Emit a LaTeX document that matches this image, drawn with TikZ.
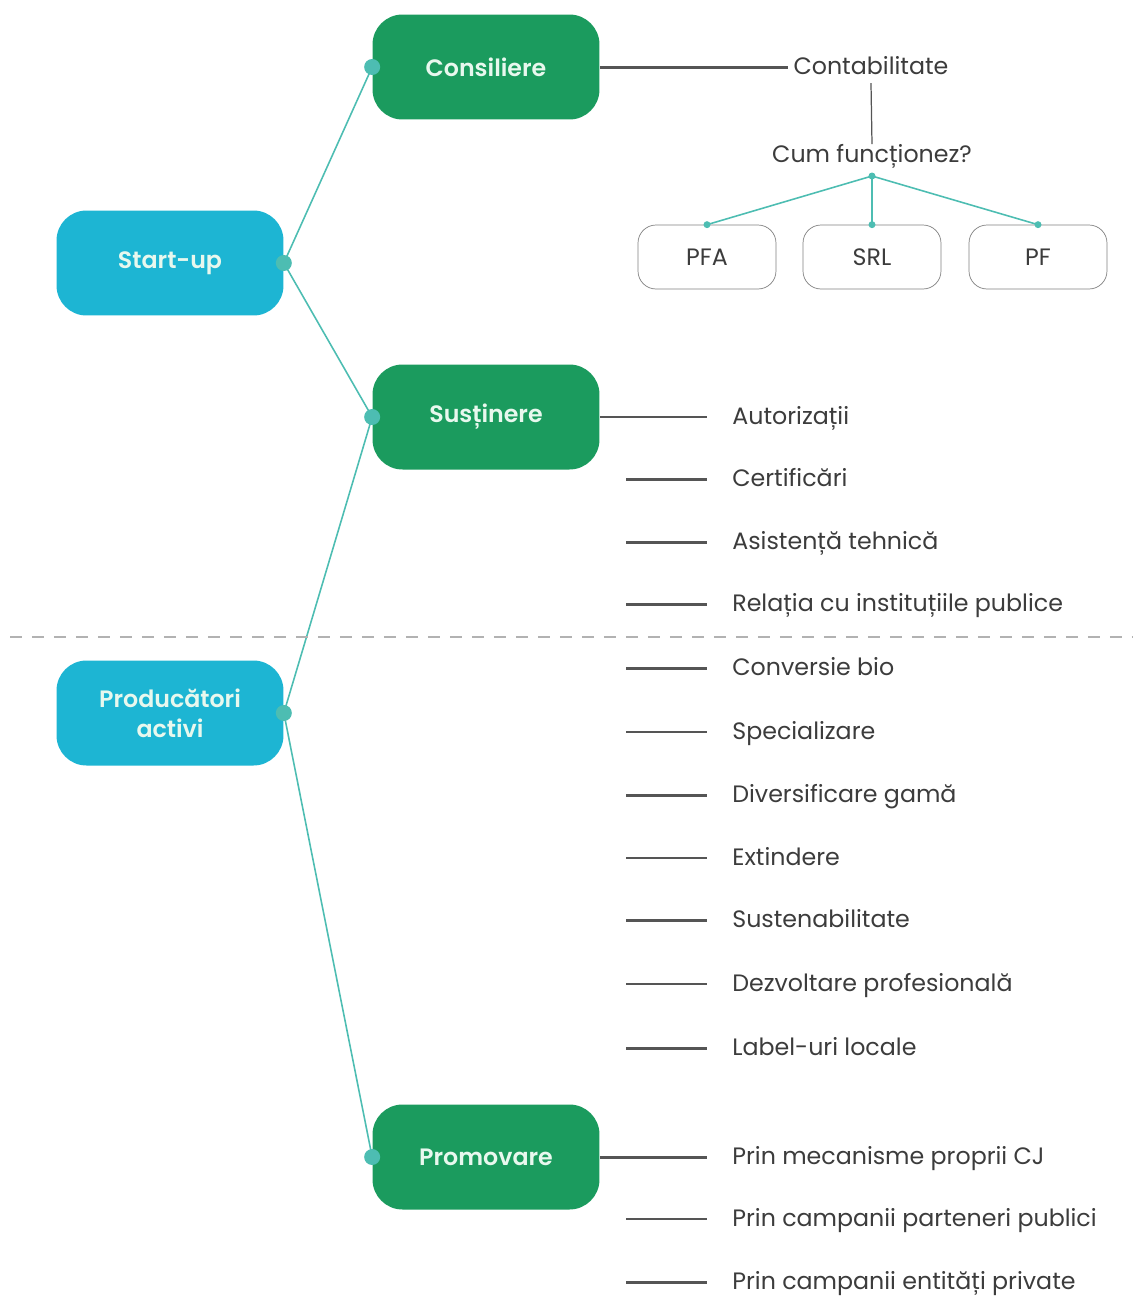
\documentclass[tikz,border=0pt]{standalone}
\usepackage{fontspec}
\setmainfont{Poppins}[BoldFont={Poppins SemiBold}]
\definecolor{rootcyan}{RGB}{29,181,211}
\definecolor{branchgreen}{RGB}{27,155,94}
\definecolor{linkteal}{RGB}{77,189,178}
\definecolor{linegray}{RGB}{85,85,85}
\definecolor{textgray}{RGB}{60,60,60}
\definecolor{topictext}{RGB}{232,248,238}
\tikzset{
    topic/.style={rounded corners=0.6cm, minimum width=4.54cm, minimum height=2.1cm, align=center,
        text=topictext, font=\fontsize{13.5}{17}\selectfont\bfseries},
    root/.style={topic, fill=rootcyan},
    branch/.style={topic, fill=branchgreen},
    label/.style={text=textgray, font=\fontsize{13.5}{17}\selectfont, text height=9pt, text depth=1pt},
    item/.style={label, anchor=west, inner xsep=0.5cm, inner ysep=0pt},
    entity/.style={draw=gray, rounded corners=0.36cm, minimum width=2.76cm, minimum height=1.28cm,
        text=textgray, font=\fontsize{13.5}{17}\selectfont},
    link/.style={linkteal, line width=0.9pt},
    thinline/.style={linegray, line width=0.7pt},
    thickline/.style={linegray, line width=1.7pt},
}
\begin{document}
\begin{tikzpicture}[x=0.02cm, y=-0.02cm]
    \useasboundingbox (0,0) rectangle (1143,1296);

    \node[root] (startup) at (170,263) {Start-up};
    \node[root] (prod) at (170,713) {Producători\\activi};
    \node[branch] (cons) at (486,67) {Consiliere};
    \node[branch] (sust) at (486,417) {Susținere};
    \node[branch] (prom) at (486,1157) {Promovare};

    \draw[link] (startup.east) -- (cons.west);
    \draw[link] (startup.east) -- (sust.west);
    \draw[link] (prod.east) -- (sust.west);
    \draw[link] (prod.east) -- (prom.west);
    \foreach \n in {startup.east, prod.east, cons.west, sust.west, prom.west}
        \fill[linkteal] (\n) circle (0.16cm);

    \node[label, inner xsep=3pt, inner ysep=4pt] (cont) at (871,67) {Contabilitate};
    \node[label, inner sep=1pt] (cum) at (872,155) {Cum funcționez?};
    \coordinate (fork) at (872,176);
    \node[entity] (pfa) at (707,257) {PFA};
    \node[entity] (srl) at (872,257) {SRL};
    \node[entity] (pf) at (1038,257) {PF};

    \draw[thickline] (cons.east) -- (cont.west);
    \draw[thinline] (cont.south) -- (cum.north);
    \foreach \n in {pfa, srl, pf} {
        \draw[link] (fork) -- (\n.north);
        \fill[linkteal] (\n.north) circle (0.07cm);
    }
    \fill[linkteal] (fork) circle (0.07cm);

    \draw[gray!60, line width=1pt, dash pattern=on 0.24cm off 0.2cm] (10,637) -- (1133,637);

    \node[item] (aut) at (707,417) {Autorizații};
    \node[item] (mec) at (707,1157) {Prin mecanisme proprii CJ};
    \draw[thinline] (sust.east) -- (aut.west);
    \draw[thickline] (prom.east) -- (mec.west);

    \foreach \n/\y/\t/\s in {cer/479/Certificări/thickline, asi/542/Asistență tehnică/thickline,
        rel/604/Relația cu instituțiile publice/thickline, conv/668/Conversie bio/thickline,
        spec/732/Specializare/thinline, div/795/Diversificare gamă/thickline,
        ext/858/Extindere/thinline, sus/920/Sustenabilitate/thickline,
        dezv/984/Dezvoltare profesională/thinline, lab/1048/Label-uri locale/thickline,
        pub/1219/Prin campanii parteneri publici/thinline, priv/1282/Prin campanii entități private/thickline} {
        \node[item] (\n) at (707,\y) {\t};
        \coordinate (\n-l) at (626,\y);
        \draw[\s] (\n-l) -- (\n.west);
    }
\end{tikzpicture}
\end{document}
